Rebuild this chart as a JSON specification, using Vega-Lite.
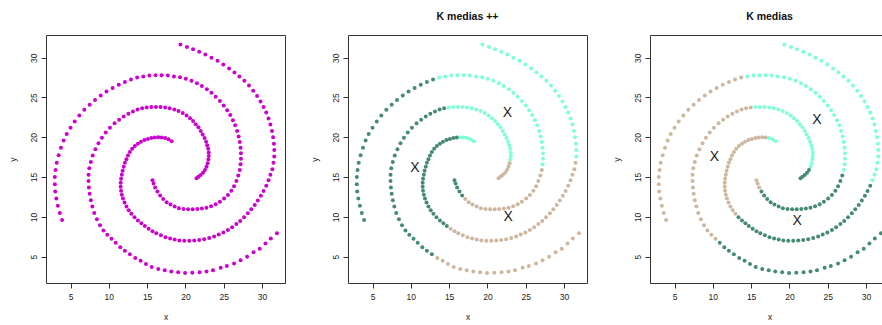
{
"$schema": "https://vega.github.io/schema/vega-lite/v6.json",
"padding": {"left": 7, "top": 11, "right": 0, "bottom": 0},
"background": "white",
"config": {
  "font": "Liberation Sans",
  "view": {"stroke": "#333", "strokeWidth": 1},
  "axis": {"domain": false, "grid": false, "tickColor": "#333", "tickSize": 5, "labelFontSize": 8.5, "labelColor": "#222", "titleFontSize": 8.5, "titleFontWeight": "normal", "titleColor": "#222", "values": [5, 10, 15, 20, 25, 30]},
  "axisX": {"labelPadding": 4, "titlePadding": 12},
  "axisY": {"labelAngle": -90, "labelAlign": "center", "labelBaseline": "bottom", "labelPadding": 3, "titlePadding": 12},
  "title": {"fontSize": 10.5, "fontWeight": "bold", "color": "#111", "offset": 13, "anchor": "middle"}
},
"datasets": {
"pts": [
{"x":31.95,"y":7.95,"k2":"b","k3":"g"},{"x":31.15,"y":7.3,"k2":"b","k3":"g"},{"x":30.45,"y":6.65,"k2":"b","k3":"g"},{"x":29.7,"y":6.0,"k2":"b","k3":"g"},{"x":28.9,"y":5.55,"k2":"b","k3":"g"},{"x":28.05,"y":5.0,"k2":"b","k3":"g"},{"x":27.2,"y":4.55,"k2":"b","k3":"g"},{"x":26.35,"y":4.15,"k2":"b","k3":"g"},{"x":25.4,"y":3.85,"k2":"b","k3":"g"},{"x":24.6,"y":3.6,"k2":"b","k3":"g"},{"x":23.6,"y":3.3,"k2":"b","k3":"g"},{"x":22.75,"y":3.15,"k2":"b","k3":"g"},{"x":21.85,"y":3.05,"k2":"b","k3":"g"},{"x":20.9,"y":3.0,"k2":"b","k3":"g"},{"x":19.95,"y":2.95,"k2":"b","k3":"g"},{"x":19.05,"y":3.05,"k2":"b","k3":"g"},{"x":18.15,"y":3.15,"k2":"b","k3":"g"},{"x":17.3,"y":3.3,"k2":"b","k3":"g"},{"x":16.45,"y":3.45,"k2":"b","k3":"g"},{"x":15.6,"y":3.7,"k2":"b","k3":"g"},{"x":14.85,"y":4.1,"k2":"b","k3":"g"},{"x":14.15,"y":4.5,"k2":"b","k3":"g"},{"x":13.45,"y":4.85,"k2":"b","k3":"g"},{"x":12.75,"y":5.3,"k2":"g","k3":"g"},{"x":12.1,"y":5.75,"k2":"g","k3":"g"},{"x":11.5,"y":6.2,"k2":"g","k3":"g"},{"x":10.9,"y":6.75,"k2":"g","k3":"g"},{"x":10.35,"y":7.25,"k2":"g","k3":"b"},{"x":9.8,"y":7.75,"k2":"g","k3":"b"},{"x":9.3,"y":8.3,"k2":"g","k3":"b"},{"x":8.85,"y":8.95,"k2":"g","k3":"b"},{"x":8.45,"y":9.7,"k2":"g","k3":"b"},{"x":8.1,"y":10.5,"k2":"g","k3":"b"},{"x":7.85,"y":11.3,"k2":"g","k3":"b"},{"x":7.65,"y":12.1,"k2":"g","k3":"b"},{"x":7.5,"y":12.9,"k2":"g","k3":"b"},{"x":7.4,"y":13.7,"k2":"g","k3":"b"},{"x":7.35,"y":14.5,"k2":"g","k3":"b"},{"x":7.35,"y":15.3,"k2":"g","k3":"b"},{"x":7.45,"y":16.1,"k2":"g","k3":"b"},{"x":7.65,"y":16.9,"k2":"g","k3":"b"},{"x":7.9,"y":17.7,"k2":"g","k3":"b"},{"x":8.25,"y":18.5,"k2":"g","k3":"b"},{"x":8.65,"y":19.25,"k2":"g","k3":"b"},{"x":9.1,"y":19.95,"k2":"g","k3":"b"},{"x":9.6,"y":20.6,"k2":"g","k3":"b"},{"x":10.15,"y":21.2,"k2":"g","k3":"b"},{"x":10.75,"y":21.75,"k2":"g","k3":"b"},{"x":11.35,"y":22.2,"k2":"g","k3":"b"},{"x":11.95,"y":22.6,"k2":"g","k3":"b"},{"x":12.55,"y":22.95,"k2":"g","k3":"b"},{"x":13.15,"y":23.25,"k2":"g","k3":"b"},{"x":13.75,"y":23.5,"k2":"g","k3":"b"},{"x":14.35,"y":23.65,"k2":"g","k3":"b"},{"x":14.95,"y":23.75,"k2":"a","k3":"b"},{"x":15.55,"y":23.8,"k2":"a","k3":"a"},{"x":16.15,"y":23.82,"k2":"a","k3":"a"},{"x":16.75,"y":23.8,"k2":"a","k3":"a"},{"x":17.35,"y":23.75,"k2":"a","k3":"a"},{"x":17.95,"y":23.65,"k2":"a","k3":"a"},{"x":18.55,"y":23.5,"k2":"a","k3":"a"},{"x":19.1,"y":23.3,"k2":"a","k3":"a"},{"x":19.65,"y":23.05,"k2":"a","k3":"a"},{"x":20.15,"y":22.75,"k2":"a","k3":"a"},{"x":20.6,"y":22.4,"k2":"a","k3":"a"},{"x":21.0,"y":22.05,"k2":"a","k3":"a"},{"x":21.35,"y":21.65,"k2":"a","k3":"a"},{"x":21.7,"y":21.25,"k2":"a","k3":"a"},{"x":22.0,"y":20.8,"k2":"a","k3":"a"},{"x":22.25,"y":20.35,"k2":"a","k3":"a"},{"x":22.5,"y":19.9,"k2":"a","k3":"a"},{"x":22.7,"y":19.45,"k2":"a","k3":"a"},{"x":22.85,"y":19.0,"k2":"a","k3":"a"},{"x":22.97,"y":18.55,"k2":"a","k3":"a"},{"x":23.05,"y":18.1,"k2":"a","k3":"a"},{"x":23.05,"y":17.65,"k2":"a","k3":"a"},{"x":23.0,"y":17.2,"k2":"a","k3":"a"},{"x":22.9,"y":16.75,"k2":"b","k3":"a"},{"x":22.75,"y":16.3,"k2":"b","k3":"a"},{"x":22.55,"y":15.9,"k2":"b","k3":"g"},{"x":22.3,"y":15.55,"k2":"b","k3":"g"},{"x":22.0,"y":15.25,"k2":"b","k3":"g"},{"x":21.7,"y":15.05,"k2":"b","k3":"g"},{"x":21.45,"y":14.87,"k2":"b","k3":"g"},
{"x":3.9,"y":9.6,"k2":"g","k3":"b"},{"x":3.6,"y":10.5,"k2":"g","k3":"b"},{"x":3.35,"y":11.4,"k2":"g","k3":"b"},{"x":3.15,"y":12.3,"k2":"g","k3":"b"},{"x":3.0,"y":13.2,"k2":"g","k3":"b"},{"x":2.95,"y":14.1,"k2":"g","k3":"b"},{"x":2.95,"y":15.0,"k2":"g","k3":"b"},{"x":3.05,"y":15.9,"k2":"g","k3":"b"},{"x":3.2,"y":16.8,"k2":"g","k3":"b"},{"x":3.45,"y":17.75,"k2":"g","k3":"b"},{"x":3.75,"y":18.7,"k2":"g","k3":"b"},{"x":4.1,"y":19.6,"k2":"g","k3":"b"},{"x":4.5,"y":20.4,"k2":"g","k3":"b"},{"x":5.0,"y":21.2,"k2":"g","k3":"b"},{"x":5.55,"y":22.0,"k2":"g","k3":"b"},{"x":6.15,"y":22.75,"k2":"g","k3":"b"},{"x":6.8,"y":23.45,"k2":"g","k3":"b"},{"x":7.5,"y":24.1,"k2":"g","k3":"b"},{"x":8.2,"y":24.7,"k2":"g","k3":"b"},{"x":8.95,"y":25.25,"k2":"g","k3":"b"},{"x":9.7,"y":25.75,"k2":"g","k3":"b"},{"x":10.5,"y":26.2,"k2":"g","k3":"b"},{"x":11.3,"y":26.6,"k2":"g","k3":"b"},{"x":12.1,"y":26.95,"k2":"g","k3":"b"},{"x":12.9,"y":27.25,"k2":"g","k3":"b"},{"x":13.7,"y":27.5,"k2":"a","k3":"b"},{"x":14.5,"y":27.65,"k2":"a","k3":"a"},{"x":15.3,"y":27.75,"k2":"a","k3":"a"},{"x":16.1,"y":27.8,"k2":"a","k3":"a"},{"x":16.9,"y":27.8,"k2":"a","k3":"a"},{"x":17.7,"y":27.75,"k2":"a","k3":"a"},{"x":18.5,"y":27.65,"k2":"a","k3":"a"},{"x":19.3,"y":27.55,"k2":"a","k3":"a"},{"x":20.05,"y":27.35,"k2":"a","k3":"a"},{"x":20.8,"y":27.1,"k2":"a","k3":"a"},{"x":21.5,"y":26.8,"k2":"a","k3":"a"},{"x":22.15,"y":26.45,"k2":"a","k3":"a"},{"x":22.8,"y":26.05,"k2":"a","k3":"a"},{"x":23.4,"y":25.6,"k2":"a","k3":"a"},{"x":23.95,"y":25.1,"k2":"a","k3":"a"},{"x":24.5,"y":24.55,"k2":"a","k3":"a"},{"x":25.0,"y":24.0,"k2":"a","k3":"a"},{"x":25.45,"y":23.4,"k2":"a","k3":"a"},{"x":25.85,"y":22.8,"k2":"a","k3":"a"},{"x":26.2,"y":22.15,"k2":"a","k3":"a"},{"x":26.5,"y":21.5,"k2":"a","k3":"a"},{"x":26.75,"y":20.8,"k2":"a","k3":"a"},{"x":26.95,"y":20.1,"k2":"a","k3":"a"},{"x":27.1,"y":19.4,"k2":"a","k3":"a"},{"x":27.2,"y":18.7,"k2":"a","k3":"a"},{"x":27.25,"y":18.0,"k2":"a","k3":"a"},{"x":27.25,"y":17.3,"k2":"a","k3":"a"},{"x":27.2,"y":16.6,"k2":"a","k3":"a"},{"x":27.1,"y":15.9,"k2":"b","k3":"a"},{"x":26.9,"y":15.2,"k2":"b","k3":"g"},{"x":26.65,"y":14.5,"k2":"b","k3":"g"},{"x":26.35,"y":13.85,"k2":"b","k3":"g"},{"x":26.0,"y":13.3,"k2":"b","k3":"g"},{"x":25.55,"y":12.75,"k2":"b","k3":"g"},{"x":25.05,"y":12.3,"k2":"b","k3":"g"},{"x":24.5,"y":11.9,"k2":"b","k3":"g"},{"x":23.95,"y":11.6,"k2":"b","k3":"g"},{"x":23.35,"y":11.35,"k2":"b","k3":"g"},{"x":22.75,"y":11.15,"k2":"b","k3":"g"},{"x":22.15,"y":11.05,"k2":"b","k3":"g"},{"x":21.55,"y":11.0,"k2":"b","k3":"g"},{"x":20.95,"y":10.95,"k2":"b","k3":"g"},{"x":20.35,"y":10.95,"k2":"b","k3":"g"},{"x":19.75,"y":11.0,"k2":"b","k3":"g"},{"x":19.15,"y":11.1,"k2":"b","k3":"g"},{"x":18.6,"y":11.3,"k2":"b","k3":"g"},{"x":18.05,"y":11.55,"k2":"b","k3":"g"},{"x":17.55,"y":11.85,"k2":"b","k3":"g"},{"x":17.1,"y":12.25,"k2":"b","k3":"g"},{"x":16.7,"y":12.7,"k2":"g","k3":"g"},{"x":16.35,"y":13.2,"k2":"g","k3":"g"},{"x":16.05,"y":13.7,"k2":"g","k3":"b"},{"x":15.85,"y":14.2,"k2":"g","k3":"b"},{"x":15.7,"y":14.6,"k2":"g","k3":"b"},
{"x":18.2,"y":19.5,"k2":"a","k3":"a"},{"x":17.8,"y":19.75,"k2":"a","k3":"a"},{"x":17.35,"y":19.9,"k2":"a","k3":"a"},{"x":16.9,"y":19.97,"k2":"a","k3":"b"},{"x":16.45,"y":20.0,"k2":"a","k3":"b"},{"x":16.0,"y":19.98,"k2":"g","k3":"b"},{"x":15.55,"y":19.92,"k2":"g","k3":"b"},{"x":15.1,"y":19.8,"k2":"g","k3":"b"},{"x":14.65,"y":19.65,"k2":"g","k3":"b"},{"x":14.2,"y":19.45,"k2":"g","k3":"b"},{"x":13.8,"y":19.2,"k2":"g","k3":"b"},{"x":13.4,"y":18.9,"k2":"g","k3":"b"},{"x":13.05,"y":18.55,"k2":"g","k3":"b"},{"x":12.75,"y":18.15,"k2":"g","k3":"b"},{"x":12.5,"y":17.7,"k2":"g","k3":"b"},{"x":12.3,"y":17.25,"k2":"g","k3":"b"},{"x":12.1,"y":16.8,"k2":"g","k3":"b"},{"x":11.95,"y":16.3,"k2":"g","k3":"b"},{"x":11.8,"y":15.8,"k2":"g","k3":"b"},{"x":11.7,"y":15.3,"k2":"g","k3":"b"},{"x":11.6,"y":14.8,"k2":"g","k3":"b"},{"x":11.55,"y":14.3,"k2":"g","k3":"b"},{"x":11.55,"y":13.8,"k2":"g","k3":"b"},{"x":11.6,"y":13.3,"k2":"g","k3":"b"},{"x":11.7,"y":12.8,"k2":"g","k3":"b"},{"x":11.85,"y":12.3,"k2":"g","k3":"b"},{"x":12.05,"y":11.8,"k2":"g","k3":"b"},{"x":12.3,"y":11.3,"k2":"g","k3":"b"},{"x":12.6,"y":10.85,"k2":"g","k3":"b"},{"x":12.95,"y":10.4,"k2":"g","k3":"b"},{"x":13.35,"y":9.95,"k2":"g","k3":"g"},{"x":13.8,"y":9.55,"k2":"g","k3":"g"},{"x":14.25,"y":9.2,"k2":"g","k3":"g"},{"x":14.7,"y":8.85,"k2":"g","k3":"g"},{"x":15.2,"y":8.5,"k2":"b","k3":"g"},{"x":15.7,"y":8.2,"k2":"b","k3":"g"},{"x":16.2,"y":7.95,"k2":"b","k3":"g"},{"x":16.8,"y":7.7,"k2":"b","k3":"g"},{"x":17.4,"y":7.45,"k2":"b","k3":"g"},{"x":18.0,"y":7.3,"k2":"b","k3":"g"},{"x":18.6,"y":7.15,"k2":"b","k3":"g"},{"x":19.2,"y":7.05,"k2":"b","k3":"g"},{"x":19.85,"y":7.0,"k2":"b","k3":"g"},{"x":20.5,"y":7.0,"k2":"b","k3":"g"},{"x":21.15,"y":7.05,"k2":"b","k3":"g"},{"x":21.8,"y":7.1,"k2":"b","k3":"g"},{"x":22.45,"y":7.2,"k2":"b","k3":"g"},{"x":23.1,"y":7.35,"k2":"b","k3":"g"},{"x":23.75,"y":7.55,"k2":"b","k3":"g"},{"x":24.35,"y":7.8,"k2":"b","k3":"g"},{"x":24.95,"y":8.05,"k2":"b","k3":"g"},{"x":25.55,"y":8.35,"k2":"b","k3":"g"},{"x":26.1,"y":8.7,"k2":"b","k3":"g"},{"x":26.65,"y":9.1,"k2":"b","k3":"g"},{"x":27.15,"y":9.5,"k2":"b","k3":"g"},{"x":27.65,"y":9.95,"k2":"b","k3":"g"},{"x":28.15,"y":10.45,"k2":"b","k3":"g"},{"x":28.6,"y":10.95,"k2":"b","k3":"g"},{"x":29.05,"y":11.5,"k2":"b","k3":"g"},{"x":29.45,"y":12.05,"k2":"b","k3":"g"},{"x":29.85,"y":12.65,"k2":"b","k3":"g"},{"x":30.2,"y":13.25,"k2":"b","k3":"g"},{"x":30.55,"y":13.9,"k2":"b","k3":"g"},{"x":30.85,"y":14.6,"k2":"b","k3":"a"},{"x":31.1,"y":15.3,"k2":"b","k3":"a"},{"x":31.35,"y":16.0,"k2":"b","k3":"a"},{"x":31.5,"y":16.8,"k2":"b","k3":"a"},{"x":31.6,"y":17.6,"k2":"a","k3":"a"},{"x":31.6,"y":18.4,"k2":"a","k3":"a"},{"x":31.55,"y":19.2,"k2":"a","k3":"a"},{"x":31.45,"y":20.0,"k2":"a","k3":"a"},{"x":31.3,"y":20.8,"k2":"a","k3":"a"},{"x":31.1,"y":21.6,"k2":"a","k3":"a"},{"x":30.85,"y":22.35,"k2":"a","k3":"a"},{"x":30.55,"y":23.1,"k2":"a","k3":"a"},{"x":30.2,"y":23.8,"k2":"a","k3":"a"},{"x":29.8,"y":24.5,"k2":"a","k3":"a"},{"x":29.35,"y":25.2,"k2":"a","k3":"a"},{"x":28.85,"y":25.85,"k2":"a","k3":"a"},{"x":28.3,"y":26.5,"k2":"a","k3":"a"},{"x":27.7,"y":27.1,"k2":"a","k3":"a"},{"x":27.05,"y":27.65,"k2":"a","k3":"a"},{"x":26.4,"y":28.15,"k2":"a","k3":"a"},{"x":25.7,"y":28.65,"k2":"a","k3":"a"},{"x":24.95,"y":29.15,"k2":"a","k3":"a"},{"x":24.2,"y":29.6,"k2":"a","k3":"a"},{"x":23.4,"y":30.0,"k2":"a","k3":"a"},{"x":22.6,"y":30.4,"k2":"a","k3":"a"},{"x":21.8,"y":30.75,"k2":"a","k3":"a"},{"x":21.0,"y":31.05,"k2":"a","k3":"a"},{"x":20.2,"y":31.35,"k2":"a","k3":"a"},{"x":19.35,"y":31.65,"k2":"a","k3":"a"}
],
"cen": [
{"p":2,"x":22.6,"y":23.0,"lab":"X"},{"p":2,"x":10.55,"y":16.1,"lab":"X"},{"p":2,"x":22.7,"y":10.05,"lab":"X"},
{"p":3,"x":23.6,"y":22.2,"lab":"X"},{"p":3,"x":10.2,"y":17.5,"lab":"X"},{"p":3,"x":21.0,"y":9.5,"lab":"X"}
]
},
"bounds": "flush",
"spacing": 63,
"hconcat": [
{
 "width": 239, "height": 248,
 "data": {"name": "pts"},
 "mark": {"type": "circle", "size": 16, "opacity": 1, "color": "#CD00CD"},
 "encoding": {
  "x": {"field": "x", "type": "quantitative", "title": "x", "scale": {"domain": [1.8, 33.0], "nice": false, "zero": false}},
  "y": {"field": "y", "type": "quantitative", "title": "y", "scale": {"domain": [1.7, 32.85], "nice": false, "zero": false}}
 }
},
{
 "width": 239, "height": 248,
 "title": "K medias ++",
 "layer": [
  {
   "data": {"name": "pts"},
   "mark": {"type": "circle", "size": 16, "opacity": 1},
   "encoding": {
    "x": {"field": "x", "type": "quantitative", "title": "x", "scale": {"domain": [1.8, 33.0], "nice": false, "zero": false}},
    "y": {"field": "y", "type": "quantitative", "title": "y", "scale": {"domain": [1.7, 32.85], "nice": false, "zero": false}},
    "color": {"field": "k2", "type": "nominal", "scale": {"domain": ["a", "g", "b"], "range": ["#7FFFD4", "#458B74", "#CDB79E"]}, "legend": null}
   }
  },
  {
   "data": {"name": "cen"},
   "transform": [{"filter": "datum.p == 2"}],
   "mark": {"type": "text", "fontSize": 14, "color": "#222"},
   "encoding": {
    "x": {"field": "x", "type": "quantitative"},
    "y": {"field": "y", "type": "quantitative"},
    "text": {"field": "lab"}
   }
  }
 ]
},
{
 "width": 239, "height": 248,
 "title": "K medias",
 "layer": [
  {
   "data": {"name": "pts"},
   "mark": {"type": "circle", "size": 16, "opacity": 1},
   "encoding": {
    "x": {"field": "x", "type": "quantitative", "title": "x", "scale": {"domain": [1.8, 33.0], "nice": false, "zero": false}},
    "y": {"field": "y", "type": "quantitative", "title": "y", "scale": {"domain": [1.7, 32.85], "nice": false, "zero": false}},
    "color": {"field": "k3", "type": "nominal", "scale": {"domain": ["a", "g", "b"], "range": ["#7FFFD4", "#458B74", "#CDB79E"]}, "legend": null}
   }
  },
  {
   "data": {"name": "cen"},
   "transform": [{"filter": "datum.p == 3"}],
   "mark": {"type": "text", "fontSize": 14, "color": "#222"},
   "encoding": {
    "x": {"field": "x", "type": "quantitative"},
    "y": {"field": "y", "type": "quantitative"},
    "text": {"field": "lab"}
   }
  }
 ]
}
]
}
